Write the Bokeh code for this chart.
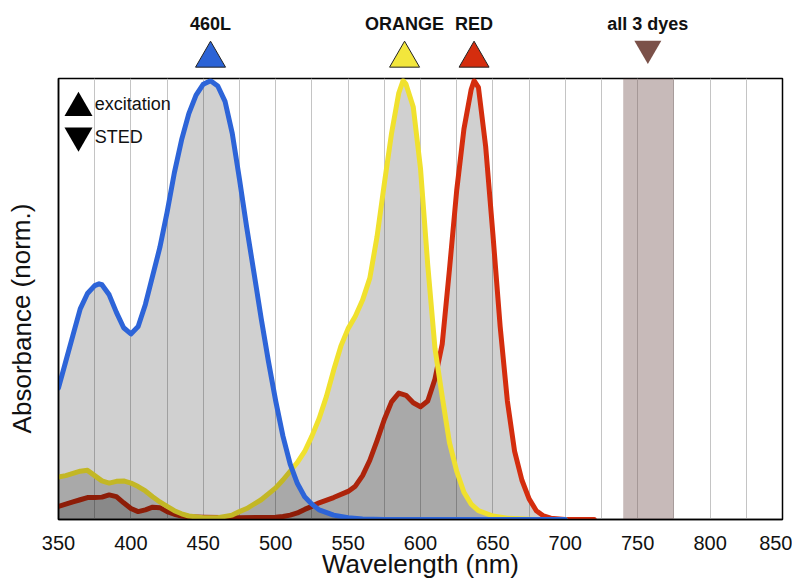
from bokeh.plotting import figure
from bokeh.layouts import column, row
from bokeh.models import BoxAnnotation, Range1d, FixedTicker
from bokeh.core.properties import value
from bokeh.embed import file_html
from bokeh.resources import INLINE

FONT = "Liberation Sans"

# ---- data (wavelength nm, normalized absorbance) ----
wl_460L = [350, 355, 360, 365, 370, 375, 378, 380, 385, 390, 395, 400, 405, 410, 415, 420,
           425, 430, 435, 440, 445, 450, 455, 460, 465, 470, 475, 480, 485, 490, 495, 500,
           505, 510, 515, 520, 525, 530, 540, 550, 560, 575, 600, 650, 700]
abs_460L = [0.30, 0.36, 0.42, 0.48, 0.515, 0.533, 0.537, 0.535, 0.512, 0.472, 0.437, 0.423, 0.44, 0.49, 0.555, 0.62,
            0.70, 0.79, 0.865, 0.925, 0.967, 0.992, 1.0, 0.988, 0.953, 0.88, 0.775, 0.665, 0.562, 0.458, 0.36, 0.27,
            0.19, 0.126, 0.082, 0.052, 0.035, 0.022, 0.01, 0.004, 0.001, 0.0, 0.0, 0.0, 0.0]

wl_orange = [350, 355, 360, 365, 370, 375, 380, 385, 390, 395, 400, 405, 410, 415, 420, 425,
             430, 435, 440, 450, 460, 470, 475, 480, 490, 500, 505, 510, 515, 520, 525, 530,
             535, 540, 545, 550, 555, 560, 565, 570, 575, 580, 585, 588, 590, 595, 600, 605,
             610, 615, 620, 625, 630, 635, 640, 650, 660, 680, 700]
abs_orange = [0.097, 0.10, 0.105, 0.11, 0.112, 0.10, 0.088, 0.083, 0.087, 0.088, 0.083, 0.075, 0.065, 0.052, 0.04, 0.03,
              0.02, 0.013, 0.008, 0.004, 0.004, 0.01, 0.018, 0.025, 0.045, 0.072, 0.09, 0.11, 0.13, 0.155, 0.19, 0.23,
              0.28, 0.34, 0.395, 0.435, 0.463, 0.50, 0.55, 0.645, 0.765, 0.88, 0.972, 1.0, 0.992, 0.94, 0.80, 0.58,
              0.39, 0.28, 0.175, 0.11, 0.062, 0.035, 0.02, 0.008, 0.003, 0.0, 0.0]

wl_red = [350, 355, 360, 365, 370, 375, 380, 385, 390, 395, 400, 405, 410, 415, 420, 425,
          430, 435, 440, 450, 475, 500, 505, 510, 515, 520, 525, 530, 540, 550, 555, 560,
          565, 570, 575, 580, 585, 590, 595, 600, 605, 610, 615, 620, 625, 630, 635, 637,
          640, 645, 650, 655, 660, 665, 670, 675, 680, 685, 690, 700, 720]
abs_red = [0.03, 0.035, 0.04, 0.045, 0.05, 0.05, 0.051, 0.056, 0.052, 0.038, 0.025, 0.018, 0.022, 0.028, 0.027, 0.018,
           0.012, 0.008, 0.006, 0.005, 0.004, 0.005, 0.007, 0.01, 0.015, 0.023, 0.03, 0.038, 0.05, 0.064, 0.076, 0.10,
           0.135, 0.18, 0.228, 0.268, 0.288, 0.283, 0.266, 0.257, 0.27, 0.32, 0.40, 0.57, 0.75, 0.89, 0.98, 1.0,
           0.985, 0.85, 0.65, 0.44, 0.27, 0.155, 0.09, 0.047, 0.02, 0.008, 0.003, 0.0, 0.0]

# excitation lines (nm) and STED band
dye_names = ["460L", "ORANGE", "RED"]
excitation_nm = [455, 589, 637]
sted_nm = 757
sted_band = (740, 775)
sted_label = "all 3 dyes"
y_label = "Absorbance (norm.)"

c_blue = "#2d64d8"
c_yellow = "#f0e12e"
c_red = "#d42d0e"
c_sted = "#7b5149"
tri_colors = ["#2b63d6", "#f2e63c", "#d42d0e"]

LAB_W = 40          # strip holding the vertical axis title
W = 752             # plot column width
LEFT, RIGHT = 18, 10
TOP_H = 76
MAIN_H = 506
x_range = Range1d(350, 850)

# ---- left strip with the y-axis title ----
ylab_fig = figure(width=LAB_W, height=TOP_H + MAIN_H, x_range=Range1d(0, LAB_W),
                  y_range=Range1d(0, TOP_H + MAIN_H), output_backend="svg", toolbar_location=None,
                  min_border=0)
ylab_fig.axis.visible = False
ylab_fig.grid.visible = False
ylab_fig.outline_line_color = None
ylab_fig.text([21], [TOP_H + MAIN_H - 318], text=[y_label], angle=1.5708,
              text_font=value(FONT), text_font_size="26px", text_align="center",
              text_baseline="middle", text_color="#111111")

# ---- top strip with markers ----
top = figure(width=W, height=TOP_H, x_range=x_range, y_range=Range1d(0, TOP_H),
             output_backend="svg", toolbar_location=None,
             min_border_left=LEFT, min_border_right=RIGHT, min_border_top=0, min_border_bottom=0)
top.axis.visible = False
top.grid.visible = False
top.outline_line_color = None
top.scatter(excitation_nm, [18] * 3, marker="triangle", size=30,
            fill_color=tri_colors, line_color="#222222", line_width=1)
top.scatter([sted_nm], [28], marker="inverted_triangle", size=27,
            fill_color=c_sted, line_color=None)
top.text(excitation_nm + [sted_nm], [53] * 4, text=dye_names + [sted_label],
         text_font=value(FONT), text_font_style="bold", text_font_size="18px",
         text_align="center", text_baseline="middle", text_color="#111111")

# ---- main plot ----
p = figure(width=W, height=MAIN_H, x_range=x_range, y_range=Range1d(0, 1.005),
           output_backend="svg", toolbar_location=None,
           min_border_left=LEFT, min_border_right=RIGHT, min_border_top=2, min_border_bottom=63)
p.outline_line_color = "black"
p.outline_line_width = 1.5

p.xaxis.ticker = FixedTicker(ticks=list(range(350, 851, 50)), minor_ticks=list(range(350, 851, 25)))
p.xgrid.ticker = FixedTicker(ticks=list(range(350, 851, 25)))
p.xgrid.grid_line_color = "#c4c4c4"
p.xgrid.grid_line_width = 1
p.ygrid.visible = False
p.xaxis.major_tick_line_color = None
p.xaxis.minor_tick_line_color = None
p.xaxis.major_label_text_font = FONT
p.xaxis.major_label_text_font_size = "20px"
p.xaxis.major_label_text_color = "#111111"
p.xaxis.major_label_standoff = 10
p.xaxis.axis_line_color = "black"
p.xaxis.axis_line_width = 1.5
p.xaxis.axis_label = "Wavelength (nm)"
p.xaxis.axis_label_text_font = FONT
p.xaxis.axis_label_text_font_size = "26px"
p.xaxis.axis_label_text_font_style = "normal"
p.xaxis.axis_label_text_color = "#111111"
p.xaxis.axis_label_standoff = -4

p.yaxis.ticker = FixedTicker(ticks=[])
p.yaxis.major_tick_line_color = None
p.yaxis.minor_tick_line_color = None
p.yaxis.major_label_standoff = 0
p.yaxis.axis_line_color = "black"
p.yaxis.axis_line_width = 1.5

# STED band
p.add_layout(BoxAnnotation(left=sted_band[0], right=sted_band[1], fill_color="#7a5a58",
                           fill_alpha=0.42, line_alpha=0, level="underlay"))

shade = dict(fill_color="black", fill_alpha=0.185)
LW = 5
p.varea(x=wl_red, y1=0, y2=abs_red, **shade)
p.line(wl_red, abs_red, line_color=c_red, line_width=LW, line_join="round", line_cap="round")
p.varea(x=wl_orange, y1=0, y2=abs_orange, **shade)
p.line(wl_orange, abs_orange, line_color=c_yellow, line_width=LW, line_join="round", line_cap="round")
p.varea(x=wl_460L, y1=0, y2=abs_460L, **shade)
p.line(wl_460L, abs_460L, line_color=c_blue, line_width=LW, line_join="round", line_cap="round")

# key (excitation / STED)
p.scatter([363.8], [0.938], marker="triangle", size=28, fill_color="black", line_color=None)
p.scatter([363.8], [0.875], marker="inverted_triangle", size=28, fill_color="black", line_color=None)
p.text([375], [0.947], text=["excitation"],
       text_font=value(FONT), text_font_size="18px", text_baseline="middle", text_color="#111111")
p.text([375], [0.872], text=["STED"],
       text_font=value(FONT), text_font_size="18px", text_baseline="middle", text_color="#111111")

layout = row(ylab_fig, column(top, p, spacing=0), spacing=0)
open("out.html", "w").write(file_html(layout, INLINE))
